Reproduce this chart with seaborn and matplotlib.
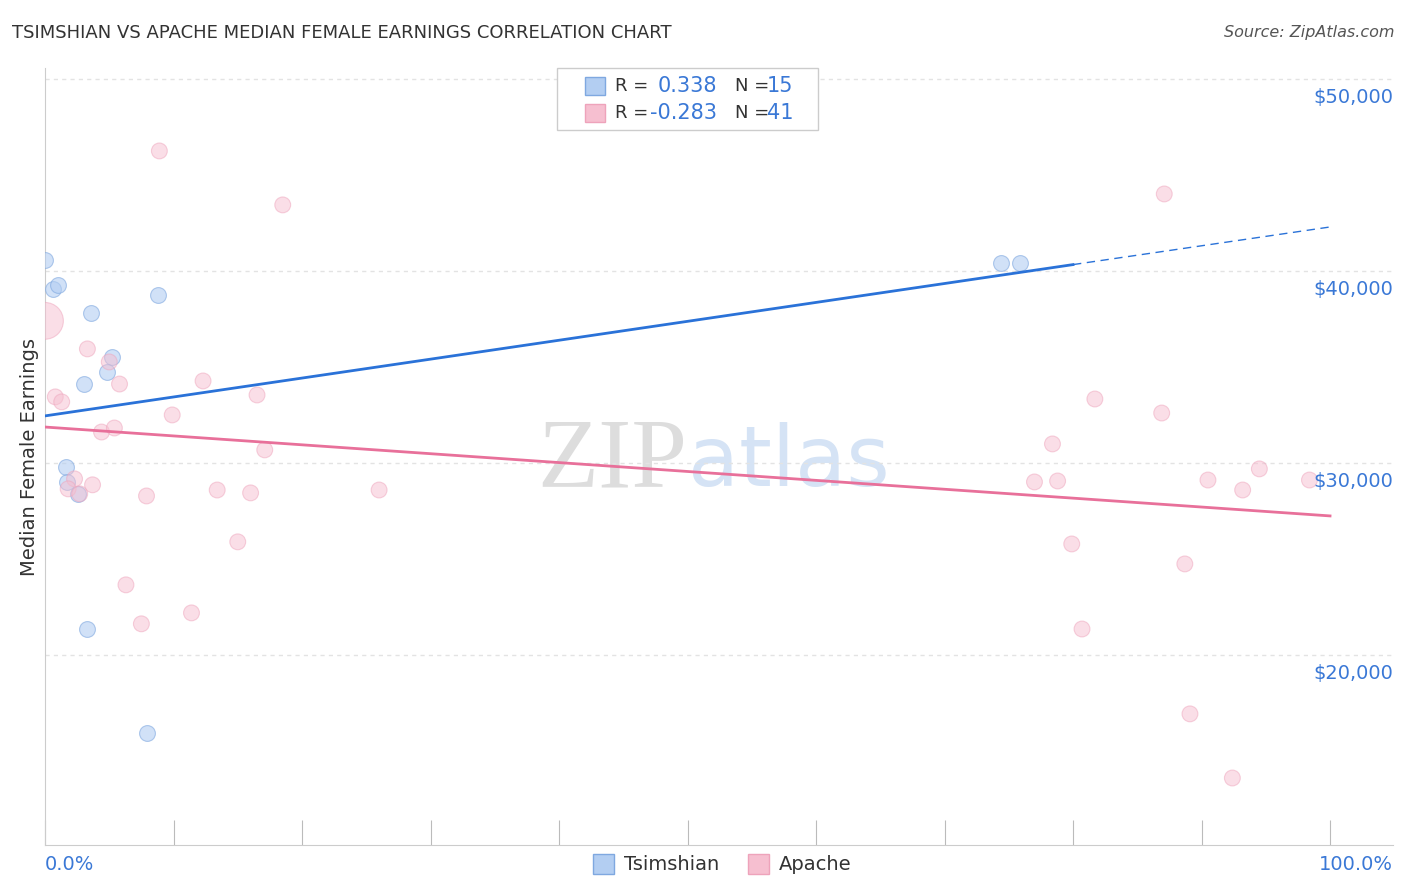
import numpy as np
import pandas as pd
import matplotlib.pyplot as plt
import matplotlib.transforms as mtrans
import seaborn as sns

# Data (x in %, y in $)
tsim_x = [0.0, 0.6, 1.0, 3.6, 8.8, 5.2, 3.0, 4.8, 1.6, 1.7, 2.6, 3.3, 7.9, 74.4, 75.9]
tsim_y = [40560, 39050, 39260, 37790, 38730, 35520, 34110, 34740, 29790, 29010, 28390, 21350, 15940, 40420, 40420]

apache_x = [0.0, 8.9, 18.5, 87.1, 3.3, 5.0, 5.8, 12.3, 0.8, 1.3, 16.5, 9.9, 4.4, 5.4, 17.1,
            78.4, 81.7, 86.9, 2.3, 1.8, 3.7, 2.7, 7.9, 13.4, 16.0, 26.0, 77.0, 78.8, 90.5,
            94.5, 93.2, 98.4, 15.0, 79.9, 6.3, 88.7, 7.5, 11.4, 80.7, 89.1, 92.4]
apache_y = [37400, 46250, 43440, 44010, 35940, 35260, 34110, 34270, 33440, 33180, 33540, 32500,
            31610, 31820, 30680, 30990, 33330, 32600, 29170, 28650, 28860, 28390, 28280, 28590,
            28440, 28590, 29010, 29060, 29110, 29690, 28590, 29110, 25890, 25780, 23650, 24740,
            21620, 22190, 21350, 16930, 13590]
apache_s = [700] + [130] * 40

# trend line ends
trend_x = [0, 80, 100]
tsim_trend = [32450, 40330, 42290]
apache_trend = [31870, 28170, 27240]

y_ticks = [20000, 30000, 40000, 50000]
y_labels = ["$20,000", "$30,000", "$40,000", "$50,000"]

blue, blue_line = "#b3cef2", "#2a72d8"
pink, pink_line = "#f6bfd0", "#e8709a"
label_blue = "#3a78d6"

fig = plt.figure(figsize=(14.06, 8.92), dpi=100)
ax = fig.add_axes([45 / 1406, 1 - 845 / 892, (1393 - 45) / 1406, (845 - 68) / 892])

sns.scatterplot(x=tsim_x, y=tsim_y, s=130, color=blue, edgecolor="#7fa8e0", linewidth=0.8,
                alpha=0.6, ax=ax, zorder=3)
sns.scatterplot(x=apache_x, y=apache_y, size=apache_s, sizes=(130, 700), color=pink,
                edgecolor="#eea3bb", linewidth=0.8, alpha=0.5, ax=ax, legend=False, zorder=3)

ax.plot(trend_x[:2], tsim_trend[:2], color=blue_line, lw=2, zorder=4)
ax.plot(trend_x[1:], tsim_trend[1:], color=blue_line, lw=1, ls=(0, (6, 4)), zorder=4)
ax.plot([trend_x[0], trend_x[2]], [apache_trend[0], apache_trend[2]], color=pink_line, lw=2, zorder=4)

ax.set_xlim(0, 104.9)
ax.set_ylim(10100, 50570)
for v in y_ticks:
    ax.axhline(v, color="#e3e3e3", lw=1, ls=(0, (3, 3)), zorder=1)
ax.set_yticks([])
trans = mtrans.blended_transform_factory(ax.transAxes, ax.transData)
for v, lab in zip(y_ticks, y_labels):
    ax.text(1.0, v - 450, lab, transform=trans, ha="right", va="top", fontsize=14, color=label_blue)
ax.set_xticks(np.arange(0, 101, 10))
ax.set_xticklabels([])
ax.tick_params(axis="x", direction="in", length=18, color="#bbbbbb")
fig.text(45 / 1406, 1 - 864 / 892, "0.0%", color=label_blue, fontsize=14, va="center")
fig.text(1393 / 1406, 1 - 864 / 892, "100.0%", color=label_blue, fontsize=14, va="center", ha="right")

for s in ["top", "right"]:
    ax.spines[s].set_visible(False)
ax.spines["left"].set_color("#cccccc")
ax.spines["bottom"].set_color("#cccccc")
ax.set_ylabel("Median Female Earnings", fontsize=14, color="#333333")
ax.set_xlabel("")

ax.text(50, 30000, "ZIP", fontsize=72, color="#dddddd", ha="right", va="center",
        family="Liberation Serif", zorder=0)
ax.text(50, 30000, "atlas", fontsize=60, color="#d5e3f5", ha="left", va="center", zorder=0)

fig.text(12 / 1406, 1 - 33 / 892, "TSIMSHIAN VS APACHE MEDIAN FEMALE EARNINGS CORRELATION CHART",
         fontsize=13, color="#333333", va="center")
fig.text(1394 / 1406, 1 - 33 / 892, "Source: ZipAtlas.com", fontsize=11.5, color="#555555",
         va="center", ha="right", style="italic")

# top legend box
lx, ly, lw_, lh = 557 / 1406, 1 - 130 / 892, 261 / 1406, 62 / 892
fig.patches.append(plt.Rectangle((lx, ly), lw_, lh, transform=fig.transFigure, fc="white",
                                 ec="#cccccc", lw=1, zorder=5))
for i, (fc, ec, r, n) in enumerate([(blue, "#7fa8e0", "0.338", "15"), (pink, "#eea3bb", "-0.283", "41")]):
    yc = 1 - (86 + 27 * i) / 892
    fig.patches.append(plt.Rectangle((585 / 1406, yc - 9 / 892), 20 / 1406, 18 / 892,
                                     transform=fig.transFigure, fc=fc, ec=ec, zorder=6))
    fig.text(615 / 1406, yc, "R =", fontsize=13, color="#333333", va="center", zorder=6)
    fig.text(717 / 1406, yc, r, fontsize=15, color=label_blue, va="center", ha="right", zorder=6)
    fig.text(735 / 1406, yc, "N =", fontsize=13, color="#333333", va="center", zorder=6)
    fig.text(793 / 1406, yc, n, fontsize=15, color=label_blue, va="center", ha="right", zorder=6)

# bottom legend
for x0, fc, ec, name in [(593, blue, "#7fa8e0", "Tsimshian"), (748, pink, "#eea3bb", "Apache")]:
    yc = 1 - 864 / 892
    fig.patches.append(plt.Rectangle((x0 / 1406, yc - 10 / 892), 21 / 1406, 20 / 892,
                                     transform=fig.transFigure, fc=fc, ec=ec))
    fig.text((x0 + 31) / 1406, yc, name, fontsize=14, color="#333333", va="center")

fig.savefig("out.png", dpi=100)
